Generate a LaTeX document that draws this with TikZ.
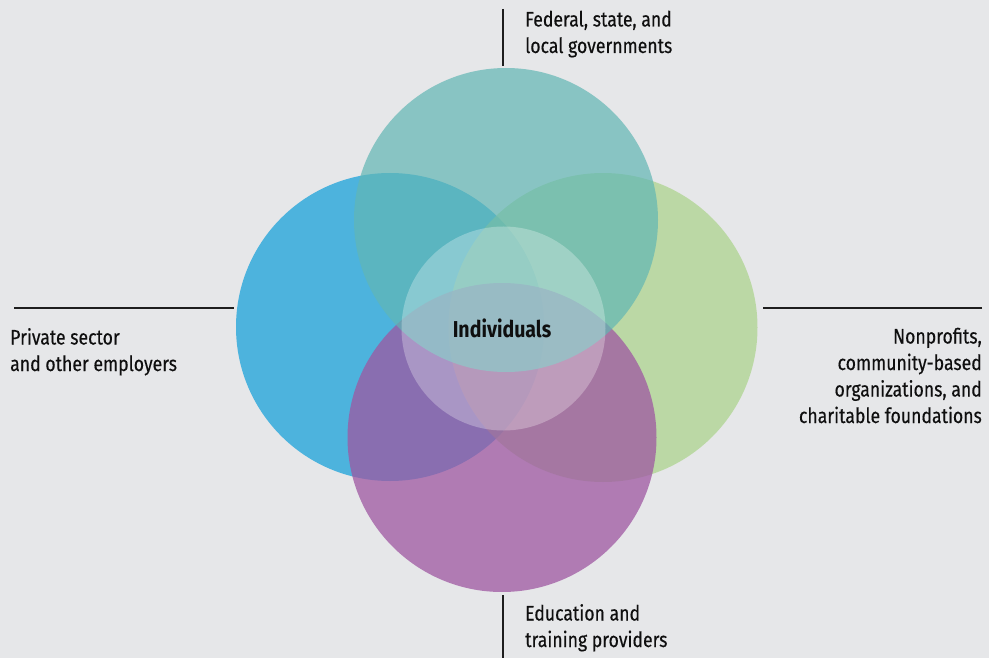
\documentclass[tikz,border=0pt]{standalone}
\usepackage{fontspec}
\setmainfont{Fira Sans}[FakeStretch=0.85]
\newfontfamily\lblfont{Fira Sans}[FakeStretch=0.84,FakeBold=0.35]
\definecolor{bgc}{RGB}{230,231,233}
\definecolor{bluec}{RGB}{77,179,221}
\definecolor{greenc}{RGB}{170,211,137}
\definecolor{purplec}{RGB}{158,87,162}
\definecolor{tealc}{RGB}{97,182,180}
\definecolor{linec}{RGB}{30,30,30}
\definecolor{textc}{RGB}{15,15,15}
\begin{document}
\begin{tikzpicture}[x=1pt,y=-1pt,
  circ/.style={circle,inner sep=0pt,minimum size=#1},
  lbl/.style={inner sep=0pt,text=textc,font=\lblfont\fontsize{21}{26.5}\selectfont},
  rule/.style={draw=linec,line width=1.3pt}]
\useasboundingbox (0,0) rectangle (989,658);
\fill[bgc] (0,0) rectangle (989,658);
% circles
\node[circ=308pt,fill=bluec] (priv) at (390,327) {};
\node[circ=309pt,fill=greenc,fill opacity=0.7] (nonp) at (603,327.5) {};
\node[circ=309pt,fill=purplec,fill opacity=0.75] (edu) at (502,437.5) {};
\node[circ=304pt,fill=tealc,fill opacity=0.7] (gov) at (506,220) {};
\node[circ=204pt,fill=white,fill opacity=0.28] (ind) at (503.5,328.5) {};
\node[font=\fontsize{23}{26}\selectfont\bfseries,text=textc,anchor=base,inner sep=0pt] (indl) at (502,337) {Individuals};
% labels (anchored at the baseline of the last line)
\node[lbl,anchor=base west,align=left] (govl) at (525,53) {Federal, state, and\\local governments};
\node[lbl,anchor=base west,align=left] (privl) at (10,371) {Private sector\\and other employers};
\node[lbl,anchor=base east,align=right] (nonpl) at (982,423) {Nonprofits,\\community-based\\organizations, and\\charitable foundations};
\node[lbl,anchor=base west,align=left] (edul) at (525,647) {Education and\\training providers};
% rules
\coordinate (gt) at (503,9);
\coordinate (lt) at (14,308);
\coordinate (rt) at (982,308);
\coordinate (bt) at (503,658);
\draw[rule,shorten >=2pt] (gt) -- (gov.north -| gt);
\draw[rule,shorten >=2pt] (lt) -- (lt -| priv.west);
\draw[rule,shorten >=5pt] (rt) -- (rt -| nonp.east);
\draw[rule,shorten >=3pt] (bt) -- (edu.south -| bt);
\end{tikzpicture}
\end{document}
